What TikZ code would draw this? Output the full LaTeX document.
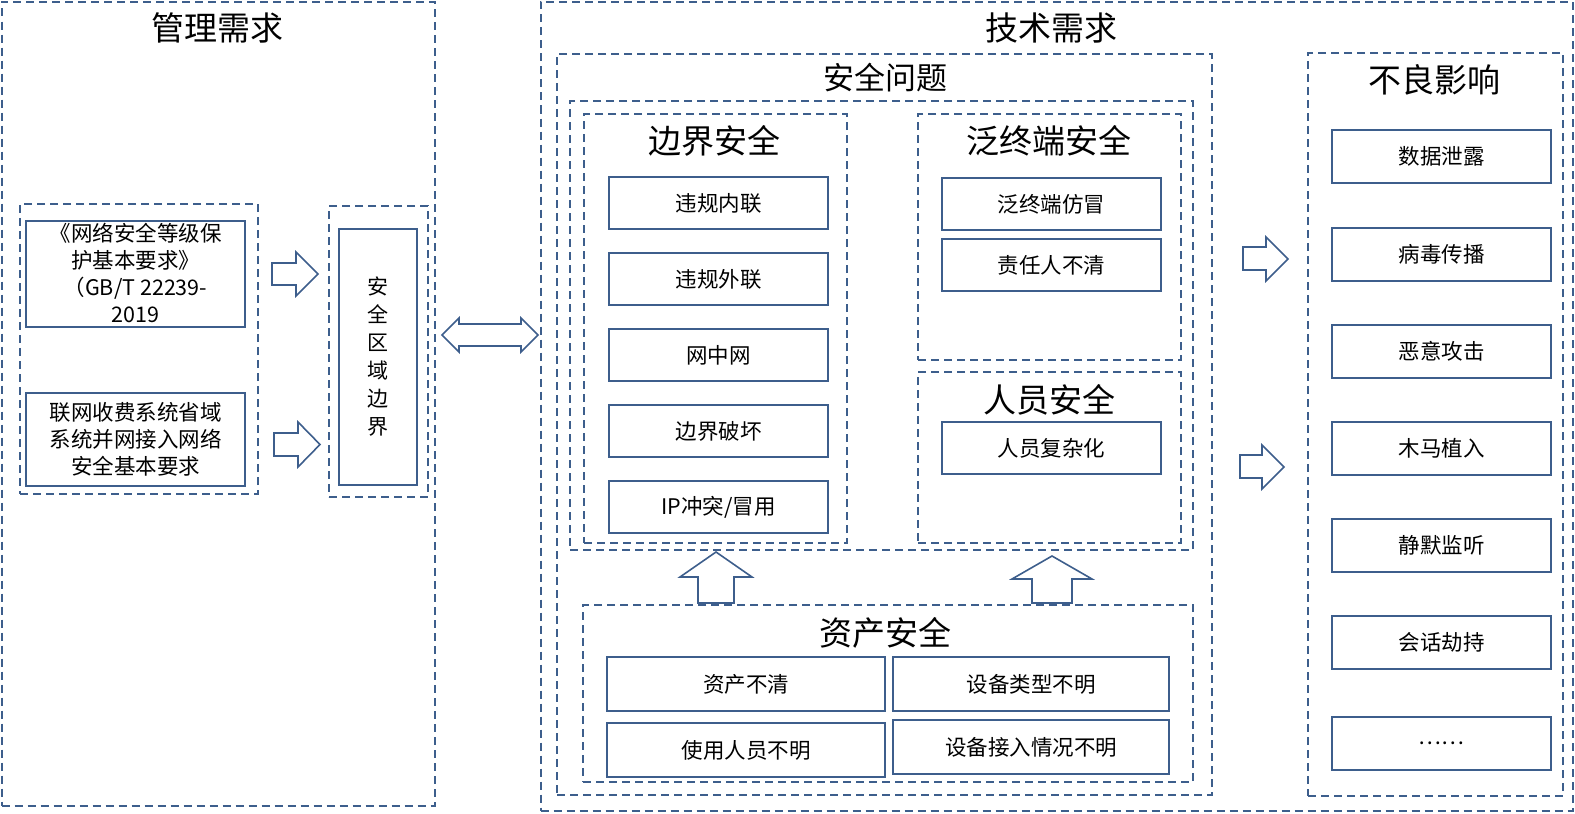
\documentclass[tikz,border=0pt]{standalone}
\usepackage{fontspec}
\setmainfont{Noto Sans CJK SC}
\begin{document}
\begin{tikzpicture}[x=1pt,y=-1pt,
  every node/.style={inner sep=0pt,outer sep=0pt},
  dbox/.style={draw=lineblue,line width=2pt,dash pattern=on 8pt off 5pt,rectangle},
  sbox/.style={draw=lineblue,line width=2pt,rectangle},
  ttl/.style={font=\fontsize{33}{36}\selectfont},
  itm/.style={sbox,font=\fontsize{21.5}{27}\selectfont,align=center},
  barrow/.style={draw=lineblue,line width=1.6pt,fill=white,line join=miter}]
\definecolor{lineblue}{HTML}{3D5E8C}
\useasboundingbox (0,0) rectangle (1575,814);
% outer boxes
\node[dbox,minimum width=433,minimum height=804] (L) at (218,403.5) {};
\node[dbox,minimum width=1032,minimum height=809] (T) at (1056.5,406) {};
\node[ttl] (Lt) at (217,28) {管理需求};
\node[ttl] (Tt) at (1051,28) {技术需求};
% left part
\node[dbox,minimum width=238,minimum height=290] (D1) at (139,349) {};
\node[itm,minimum width=219,minimum height=106] (b1) at (135.5,274) {};
\node[font=\fontsize{21.5}{27.3}\selectfont,align=center] (b1t) at (135.5,273) {《网络安全等级保\\护基本要求》\\（GB/T 22239-\\2019};
\node[itm,minimum width=219,minimum height=93] (b2) at (135.5,439.5) {联网收费系统省域\\系统并网接入网络\\安全基本要求};
\node[dbox,minimum width=99,minimum height=291] (Z) at (378.5,351.5) {};
\node[itm,minimum width=78,minimum height=256,font=\fontsize{21}{28}\selectfont] (Zs) at (378,357) {安\\全\\区\\域\\边\\界};
% arrows left
\draw[barrow] (272,263) -- (296,263) -- (296,252) -- (318,274) -- (296,296) -- (296,285) -- (272,285) -- cycle;
\draw[barrow] (274,433) -- (298,433) -- (298,422) -- (320,444.5) -- (298,467) -- (298,456) -- (274,456) -- cycle;
\draw[barrow] (442,335) -- (459,318) -- (459,324) -- (521,324) -- (521,318) -- (538,335) -- (521,352) -- (521,346) -- (459,346) -- (459,352) -- cycle;
% 安全问题
\node[dbox,minimum width=655,minimum height=741] (P) at (884.5,424.5) {};
\node[ttl,font=\fontsize{31}{34}\selectfont] (Pt) at (885,78) {安全问题};
\node[dbox,minimum width=623,minimum height=449] (I) at (881.5,325.5) {};
\node[dbox,minimum width=263,minimum height=429] (B) at (715.5,328.5) {};
\node[ttl] (Bt) at (714,141) {边界安全};
\node[dbox,minimum width=263,minimum height=246] (F) at (1049.5,237) {};
\node[ttl] (Ft) at (1049,141) {泛终端安全};
\node[dbox,minimum width=263,minimum height=171] (R) at (1049.5,457.5) {};
\node[ttl] (Rt) at (1049,400) {人员安全};
\node[itm,minimum width=219,minimum height=52] (B1) at (718.5,203) {违规内联};
\node[itm,minimum width=219,minimum height=52] (B2) at (718.5,279) {违规外联};
\node[itm,minimum width=219,minimum height=52] (B3) at (718.5,355) {网中网};
\node[itm,minimum width=219,minimum height=52] (B4) at (718.5,431) {边界破坏};
\node[itm,minimum width=219,minimum height=52] (B5) at (718.5,507) {IP冲突/冒用};
\node[itm,minimum width=219,minimum height=52] (F1) at (1051.5,204) {泛终端仿冒};
\node[itm,minimum width=219,minimum height=52] (F2) at (1051.5,265) {责任人不清};
\node[itm,minimum width=219,minimum height=52] (R1) at (1051.5,448) {人员复杂化};
% up arrows
\draw[barrow] (698,603) -- (698,577) -- (680,577) -- (716,552) -- (752,577) -- (734,577) -- (734,603) -- cycle;
\draw[barrow] (1032,603) -- (1032,579) -- (1012,579) -- (1052,556) -- (1092,579) -- (1072,579) -- (1072,603) -- cycle;
% 资产安全
\node[dbox,minimum width=610,minimum height=177] (A) at (888,693.5) {};
\node[ttl] (At) at (885,633) {资产安全};
\node[itm,minimum width=278,minimum height=54] (A1) at (746,684) {资产不清};
\node[itm,minimum width=276,minimum height=54] (A2) at (1031,684) {设备类型不明};
\node[itm,minimum width=278,minimum height=54] (A3) at (746,750) {使用人员不明};
\node[itm,minimum width=276,minimum height=54] (A4) at (1031,747) {设备接入情况不明};
% right arrows
\draw[barrow] (1243,247) -- (1266,247) -- (1266,237) -- (1288,259) -- (1266,281) -- (1266,270) -- (1243,270) -- cycle;
\draw[barrow] (1240,455) -- (1262,455) -- (1262,445) -- (1284,467) -- (1262,489) -- (1262,478) -- (1240,478) -- cycle;
% 不良影响
\node[dbox,minimum width=255,minimum height=743] (N) at (1435.5,424.5) {};
\node[ttl] (Nt) at (1434,80) {不良影响};
\node[itm,minimum width=219,minimum height=53] (N1) at (1441.5,156.5) {数据泄露};
\node[itm,minimum width=219,minimum height=53] (N2) at (1441.5,254.5) {病毒传播};
\node[itm,minimum width=219,minimum height=53] (N3) at (1441.5,351.5) {恶意攻击};
\node[itm,minimum width=219,minimum height=53] (N4) at (1441.5,448.5) {木马植入};
\node[itm,minimum width=219,minimum height=53] (N5) at (1441.5,545.5) {静默监听};
\node[itm,minimum width=219,minimum height=53] (N6) at (1441.5,642.5) {会话劫持};
\node[itm,minimum width=219,minimum height=53] (N7) at (1441.5,743.5) {……};
\end{tikzpicture}
\end{document}
